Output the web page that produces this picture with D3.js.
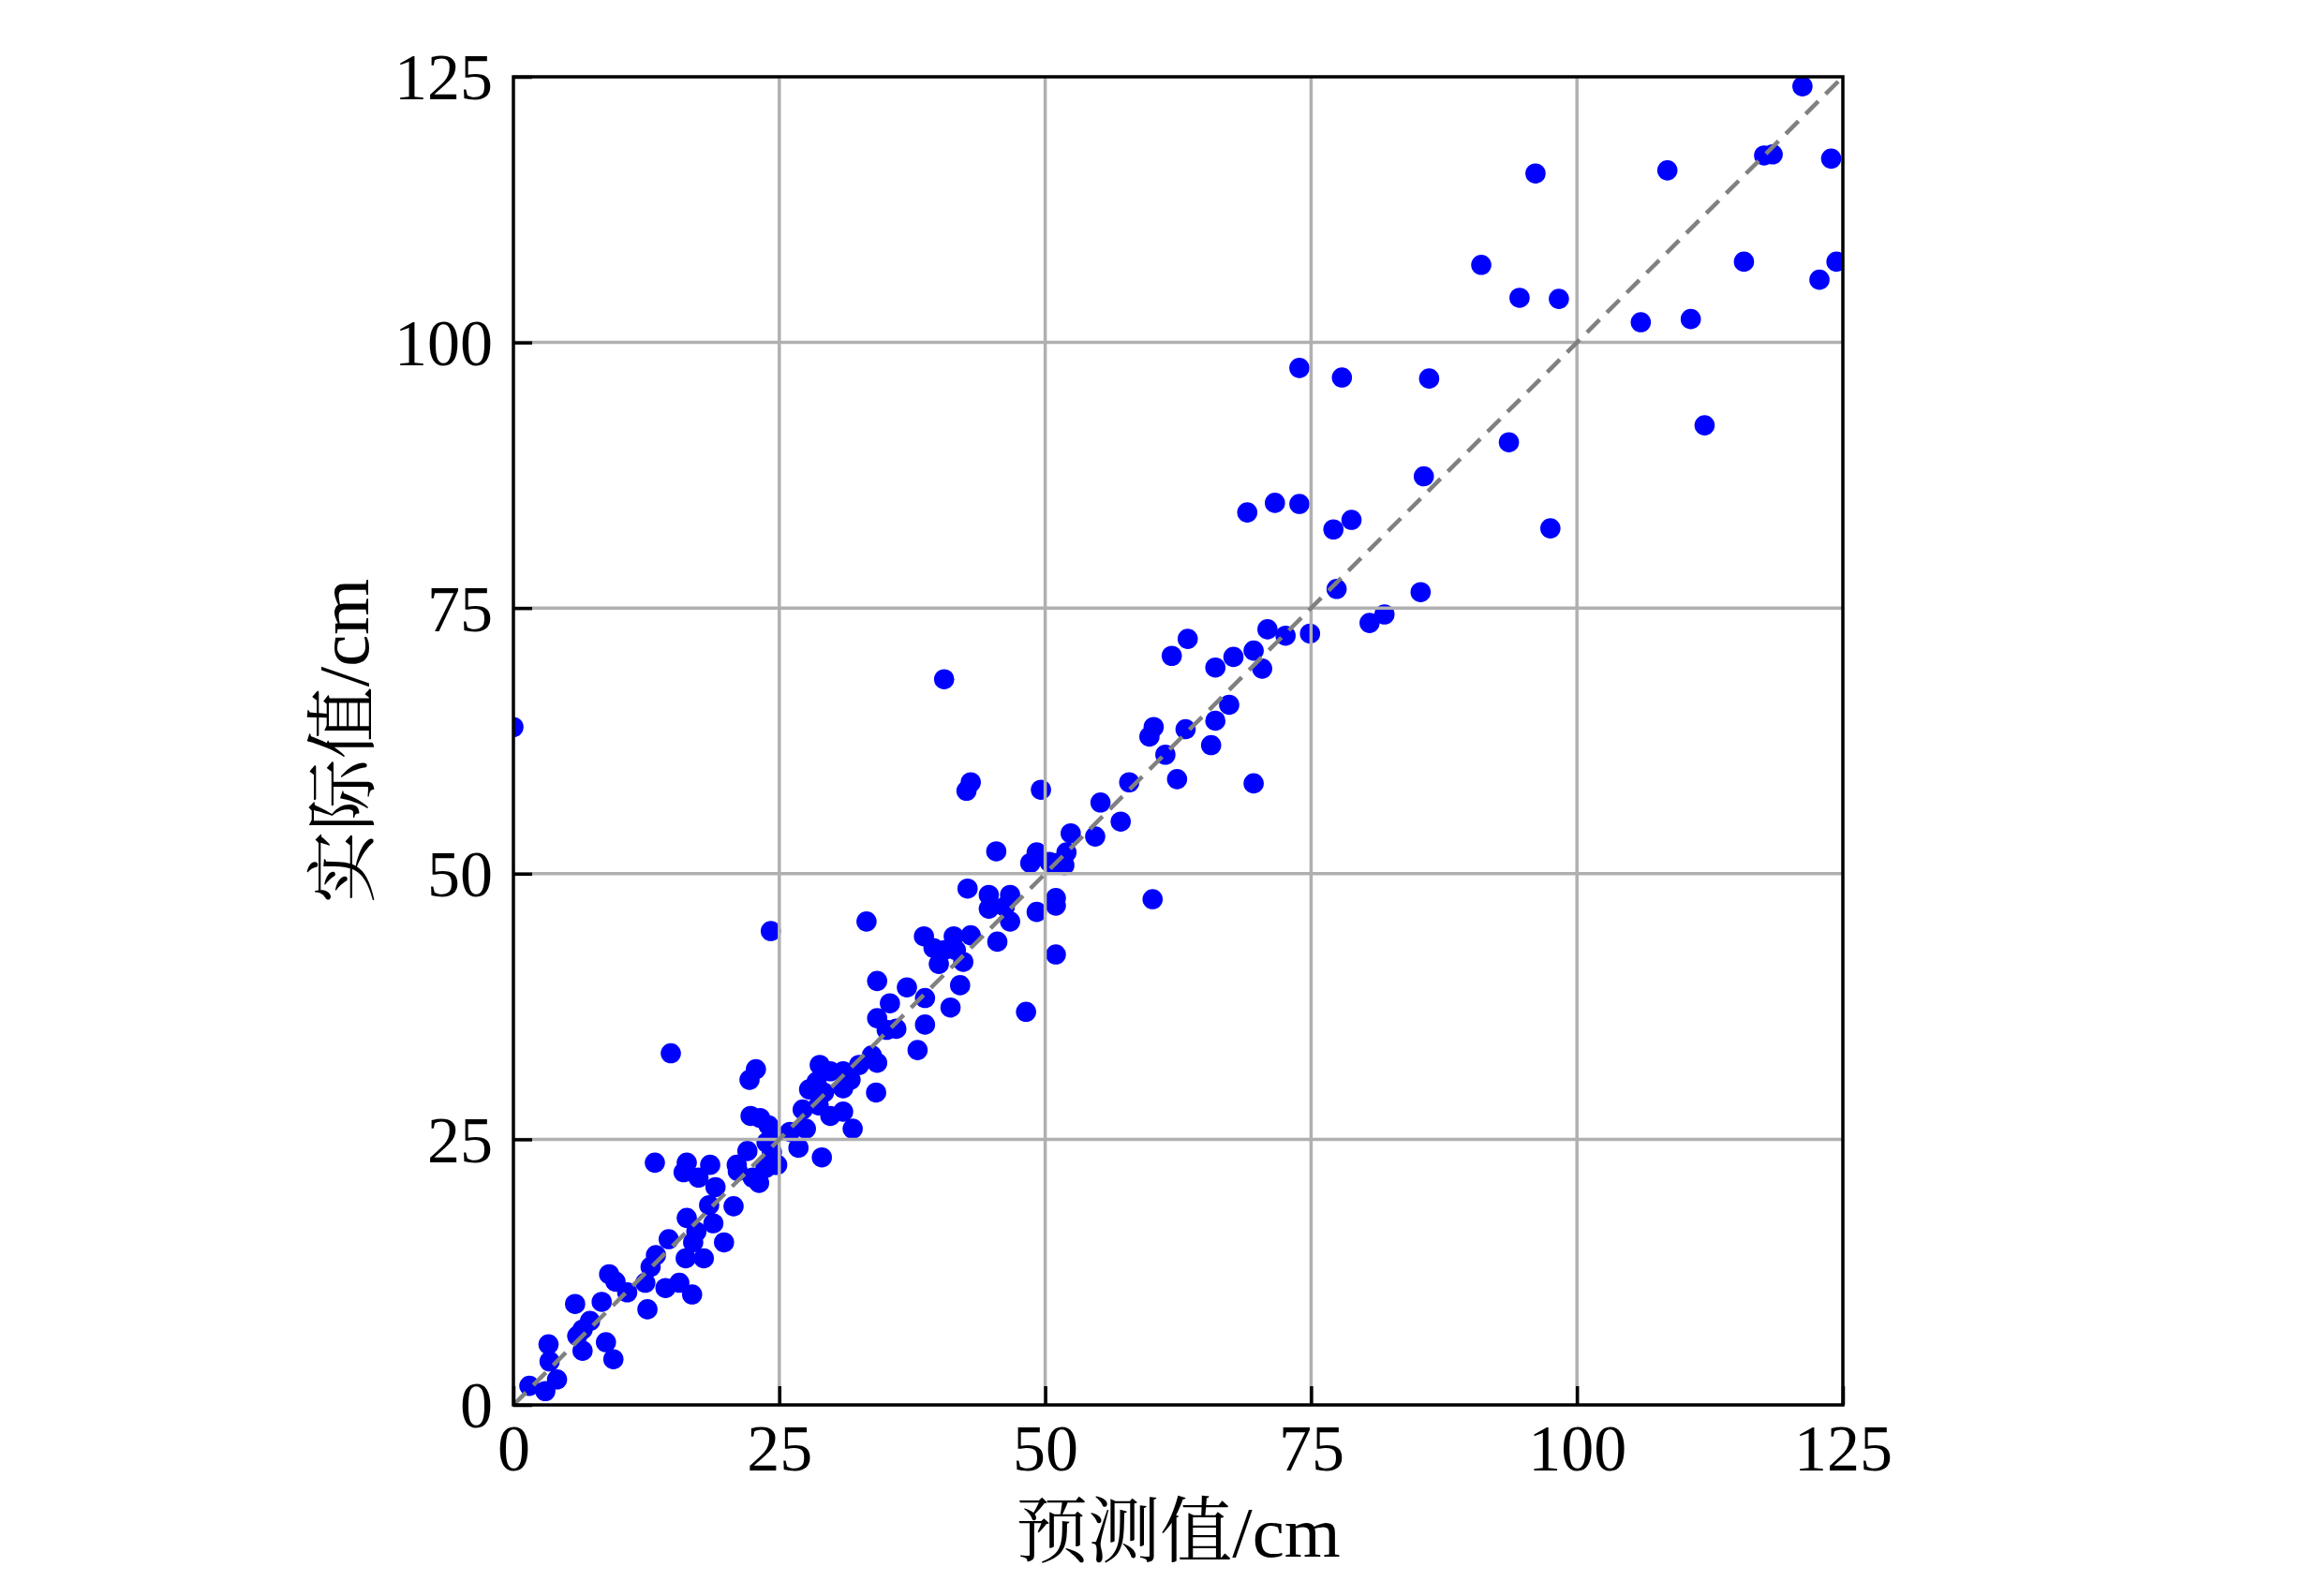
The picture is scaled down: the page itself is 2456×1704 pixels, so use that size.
<!DOCTYPE html>
<html>
<head>
<meta charset="utf-8">
<script src="https://cdn.jsdelivr.net/npm/d3@7"></script>
<style>
  html, body { margin: 0; padding: 0; background: #ffffff; }
  svg { display: block; }
</style>
</head>
<body>
<script>
// Predicted values (x) and actual values (y), cm
const predicted = [
  1.5, 3.0, 4.1, 3.3, 3.4, 6.0, 6.5, 5.8, 7.2, 6.5,
  8.3, 8.7, 9.4, 9.0, 9.6, 10.7, 12.4, 12.6, 14.3, 15.6,
  16.8, 13.4, 12.9, 14.6, 16.2, 17.9, 16.3, 16.9, 17.2, 18.8,
  19.8, 18.4, 20.7, 19.0, 16.3, 16.0, 17.4, 18.5, 13.3, 14.8,
  22.8, 22.2, 21.1, 21.0, 22.0, 22.5, 23.1, 23.7, 24.5, 24.3,
  23.8, 24.4, 24.0, 23.2, 22.3, 24.8, 26.8, 29.0, 26.0, 27.5,
  27.2, 28.7, 29.8, 31.0, 31.9, 27.8, 28.5, 28.8, 29.8, 31.0,
  31.7, 32.5, 31.0, 29.2, 33.7, 34.2, 34.1, 24.2, 33.2, 34.2,
  37.0, 38.7, 41.1, 35.4, 34.2, 35.1, 36.0, 38.7, 38.0, 42.0,
  38.6, 39.5, 40.0, 41.4, 41.6, 43.0, 42.3, 40.5, 45.5, 48.2,
  51.0, 42.7, 44.7, 46.7, 44.7, 46.2, 46.7, 49.2, 51.0, 51.0,
  45.4, 49.2, 48.6, 50.4, 51.0, 52.0, 51.8, 52.4, 54.7, 55.2,
  57.1, 49.6, 43.0, 42.6, 40.5, 60.1, 57.9, 60.2, 59.8, 61.3,
  62.4, 63.2, 65.6, 66.0, 67.3, 69.6, 66.0, 67.7, 69.6, 70.4,
  70.9, 72.6, 74.9, 63.4, 61.9, 77.4, 80.5, 81.9, 77.1, 78.8,
  69.0, 71.6, 73.9, 73.9, 77.9, 86.1, 85.6, 85.3, 93.6, 97.5,
  91.0, 94.6, 98.3, 96.1, 108.5, 106.0, 110.7, 112.0, 115.7, 117.6,
  118.4, 121.2, 123.9, 122.8, 124.4, 0.0
];
const actual = [
  1.8, 1.3, 2.4, 5.7, 4.1, 6.5, 5.1, 9.5, 7.9, 7.1,
  9.7, 5.9, 4.3, 12.3, 11.6, 10.6, 11.5, 9.0, 11.0, 11.5,
  10.4, 14.1, 13.0, 15.6, 13.8, 13.8, 17.6, 15.3, 16.3, 17.1,
  15.3, 18.8, 18.7, 20.5, 22.8, 21.9, 21.4, 22.6, 22.8, 33.1,
  31.6, 30.6, 22.0, 22.6, 23.9, 21.4, 20.9, 22.3, 22.6, 23.8,
  24.7, 25.6, 26.3, 27.0, 27.2, 22.6, 24.2, 23.3, 25.7, 26.0,
  27.8, 28.2, 27.2, 27.6, 26.0, 29.7, 30.4, 32.0, 31.4, 31.4,
  30.6, 32.0, 29.8, 29.4, 32.9, 32.2, 29.4, 44.6, 45.5, 39.9,
  39.3, 38.3, 37.4, 37.8, 36.4, 35.3, 35.4, 35.8, 33.4, 39.5,
  44.1, 43.0, 41.5, 44.1, 42.8, 44.2, 41.7, 42.8, 43.6, 37.0,
  42.4, 48.6, 48.0, 48.0, 46.7, 46.9, 45.5, 46.4, 47.7, 47.0,
  52.1, 52.0, 51.0, 51.1, 51.0, 52.0, 50.8, 53.8, 53.5, 56.7,
  54.9, 57.9, 58.6, 57.8, 68.3, 47.6, 58.6, 63.8, 62.9, 61.2,
  58.9, 63.6, 62.1, 64.4, 65.9, 58.5, 69.4, 70.4, 71.0, 69.3,
  73.0, 72.4, 72.6, 72.1, 70.5, 76.8, 73.6, 74.4, 82.4, 83.3,
  84.0, 84.9, 84.8, 97.6, 96.7, 96.6, 87.4, 76.5, 90.6, 82.5,
  107.3, 104.2, 104.1, 115.9, 116.2, 101.9, 102.2, 92.2, 107.6, 117.6,
  117.7, 124.1, 117.3, 105.9, 107.6, 63.8
];
const tickValues = [0, 25, 50, 75, 100, 125];
const gridValues = [25, 50, 75, 100];
const axisDomain = [0, 125];
const xTitle = "预测值/cm";
const yTitle = "实际值/cm";

const W = 2456, H = 1704;
const pL = 548, pR = 1967, pT = 82, pB = 1500;
const latin = "'Liberation Serif', 'Times New Roman', serif";
const mixed = "'Liberation Serif', 'Noto Serif CJK SC', 'Noto Sans CJK SC', serif";

const svg = d3.select("body").append("svg")
  .attr("width", W).attr("height", H)
  .attr("xmlns", "http://www.w3.org/2000/svg");
svg.append("rect").attr("width", W).attr("height", H).attr("fill", "#ffffff");

const x = d3.scaleLinear().domain(axisDomain).range([pL, pR]);
const y = d3.scaleLinear().domain(axisDomain).range([pB, pT]);

svg.append("defs").append("clipPath").attr("id", "plotclip")
  .append("rect").attr("x", pL).attr("y", pT)
  .attr("width", pR - pL).attr("height", pB - pT);

// Points
const pts = predicted.map((p, i) => ({ p, a: actual[i] }));
svg.append("g").attr("clip-path", "url(#plotclip)")
  .selectAll("circle").data(pts).join("circle")
  .attr("cx", d => x(d.p)).attr("cy", d => y(d.a))
  .attr("r", 10.8).attr("fill", "#0000ff");

// Grid
const grid = svg.append("g");
grid.selectAll("line.v").data(gridValues).join("line").attr("class", "v")
  .attr("x1", d => x(d)).attr("x2", d => x(d))
  .attr("y1", pT).attr("y2", pB)
  .attr("stroke", "#b0b0b0").attr("stroke-width", 3.5);
grid.selectAll("line.h").data(gridValues).join("line").attr("class", "h")
  .attr("y1", d => y(d)).attr("y2", d => y(d))
  .attr("x1", pL).attr("x2", pR)
  .attr("stroke", "#b0b0b0").attr("stroke-width", 3.5);

// Diagonal 1:1 line
svg.append("line")
  .attr("x1", x(axisDomain[0])).attr("y1", y(axisDomain[0]))
  .attr("x2", x(axisDomain[1])).attr("y2", y(axisDomain[1]))
  .attr("stroke", "#808080").attr("stroke-width", 4.5)
  .attr("stroke-dasharray", "19,11");

// Axes with inward ticks
const xAxis = d3.axisBottom(x).tickValues(tickValues).tickSize(-20).tickPadding(20)
  .tickFormat(d3.format("d"));
const yAxis = d3.axisLeft(y).tickValues(tickValues).tickSize(-20).tickPadding(22)
  .tickFormat(d3.format("d"));

const gx = svg.append("g").attr("transform", `translate(0,${pB})`).call(xAxis);
const gy = svg.append("g").attr("transform", `translate(${pL},0)`).call(yAxis);
[gx, gy].forEach(g => {
  g.select(".domain").remove();
  g.selectAll(".tick line").attr("stroke", "#000").attr("stroke-width", 3.5);
  g.selectAll(".tick text").attr("fill", "#000")
    .style("font-family", latin).style("font-size", "70px");
});
gx.selectAll(".tick text").attr("dy", "0.72em");
gy.selectAll(".tick text").attr("dy", "0.34em");

// Frame
svg.append("rect").attr("x", pL).attr("y", pT)
  .attr("width", pR - pL).attr("height", pB - pT)
  .attr("fill", "none").attr("stroke", "#000").attr("stroke-width", 3.5);

// Axis titles
svg.append("text").attr("x", (pL + pR) / 2).attr("y", 1662)
  .attr("text-anchor", "middle").attr("fill", "#000")
  .style("font-family", mixed).style("font-size", "77px")
  .text(xTitle);
svg.append("text")
  .attr("transform", `translate(393,${(pT + pB) / 2}) rotate(-90)`)
  .attr("text-anchor", "middle").attr("fill", "#000")
  .style("font-family", mixed).style("font-size", "77px")
  .text(yTitle);
</script>
</body>
</html>
